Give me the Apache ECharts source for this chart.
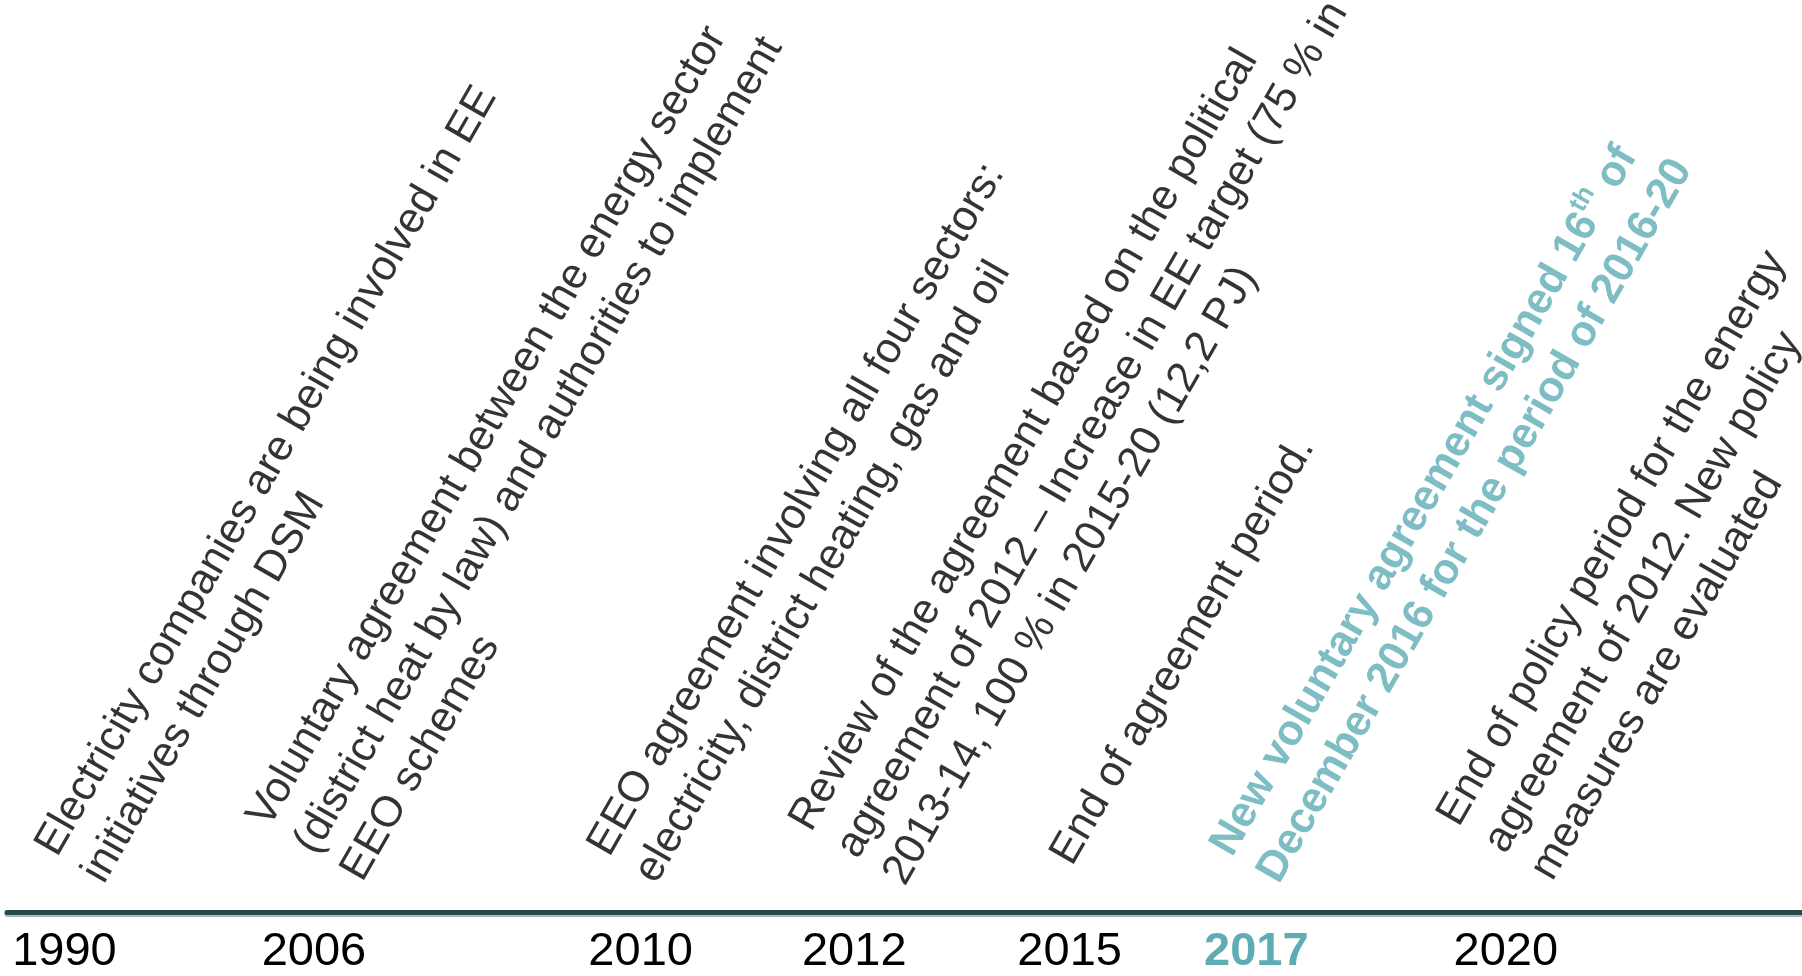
<!DOCTYPE html>
<html>
<head>
<meta charset="utf-8">
<title>EEO timeline</title>
<script src="https://cdn.jsdelivr.net/npm/echarts@6.0.0/dist/echarts.min.js"></script>
<style>
  html, body { margin: 0; padding: 0; background: #fff; }
  #chart { width: 1802px; height: 976px; }
</style>
</head>
<body>
<div id="chart"></div>
<script>
// milestones on the timeline
const years = ["1990", "2006", "2010", "2012", "2015", "2017", "2020"];
// where each milestone sits along the line (0-100)
const slots = [3.2, 17.1, 35.3, 47.2, 59.2, 69.6, 83.5];
const notes = [
  "Electricity companies are being involved in EE\ninitiatives through DSM",
  "Voluntary agreement between the energy sector\n(district heat by law) and authorities to implement\nEEO schemes",
  "EEO agreement involving all four sectors:\nelectricity, district heating, gas and oil",
  "Review of the agreement based on the political\nagreement of 2012 \u2013 Increase in EE target (75 % in\n2013-14, 100 % in 2015-20 (12,2 PJ)",
  "End of agreement period.",
  "New voluntary agreement signed 16th of\nDecember 2016 for the period of 2016-20",
  "End of policy period for the energy\nagreement of 2012. New policy\nmeasures are evaluated"
];
const highlight = [false, false, false, false, false, true, false];

// nudge (px) from the tick to the bottom-left corner of each note
const noteShift = [[53, -19], [62, -21], [29, -19], [64, -17], [16, -37], [36, -19], [60, -22]];

const TEAL = "#5eadb5";
const FONT = "'Liberation Sans', Arial, sans-serif";

const chart = echarts.init(document.getElementById("chart"));

const noteData = years.map((y, i) => ({
  value: [slots[i], 0],
  label: {
    position: noteShift[i],
    color: highlight[i] ? TEAL : "#000",
    fontWeight: highlight[i] ? "bold" : "normal"
  }
}));

const option = {
  animation: false,
  grid: { left: 7, right: 0, top: 0, bottom: 60 },
  xAxis: {
    type: "value",
    min: 0,
    max: 100,
    splitLine: { show: false },
    axisTick: { show: false },
    axisLine: {
      show: true,
      onZero: false,
      lineStyle: {
        color: "#264a4b",
        width: 5,
        shadowColor: "rgba(120,140,140,0.6)",
        shadowOffsetY: 2
      }
    },
    axisLabel: {
      customValues: slots,
      margin: 17,
      fontFamily: FONT,
      fontSize: 47,
      color: "#000",
      formatter: (v) => {
        const i = slots.indexOf(v);
        if (i < 0) return "";
        return highlight[i] ? "{hl|" + years[i] + "}" : years[i];
      },
      rich: {
        hl: { fontFamily: FONT, fontSize: 47, fontWeight: "bold", color: TEAL }
      }
    }
  },
  yAxis: { type: "value", min: 0, max: 1, show: false },
  series: [
    {
      type: "scatter",
      silent: true,
      symbolSize: 1,
      itemStyle: { color: "transparent" },
      data: noteData,
      label: {
        show: true,
        rotate: 60,
        align: "left",
        verticalAlign: "bottom",
        fontFamily: FONT,
        fontSize: 43,
        lineHeight: 54,
        formatter: (p) => {
          const i = p.dataIndex;
          if (!highlight[i]) return notes[i];
          return notes[i]
            .split("\n")
            .map((line) => line.replace(/(\d)th\b/, "$1{sup|th}"))
            .join("\n");
        },
        rich: {
          sup: {
            fontFamily: FONT,
            fontSize: 26,
            fontWeight: "bold",
            color: TEAL,
            verticalAlign: "top",
            lineHeight: 54
          }
        }
      }
    }
  ]
};

chart.setOption(option);
window.addEventListener("resize", () => chart.resize());
</script>
</body>
</html>
